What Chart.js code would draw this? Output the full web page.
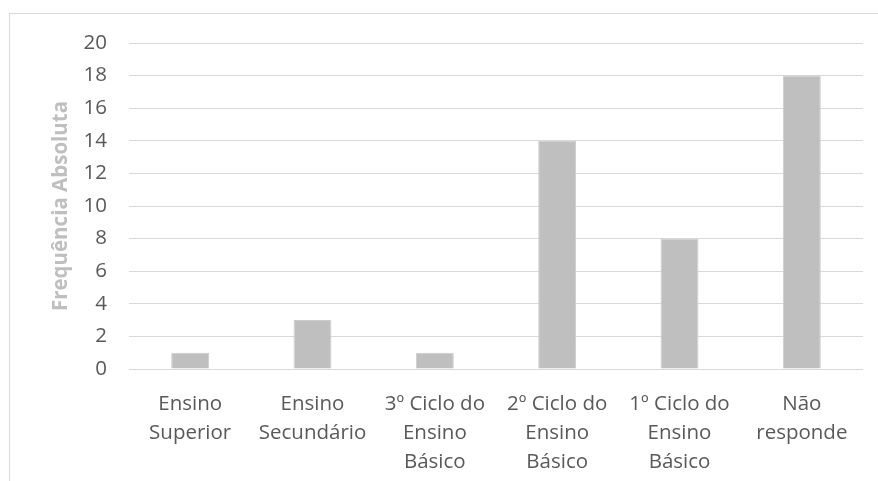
<!DOCTYPE html>
<html lang="pt">
<head>
  <meta charset="UTF-8" />
  <title>Frequência Absoluta</title>
  <style>
    body {
      margin: 0;
      background: #ffffff;
      width: 878px;
      height: 481px;
      overflow: hidden;
      position: relative;
    }
    .frame {
      position: absolute;
      left: 9px;
      top: 13px;
      width: 900px;
      height: 500px;
      border: 1px solid #d9d9d9;
    }
    #chart {
      position: absolute;
      left: 0;
      top: 0;
    }
  </style>
</head>
<body>
  <div class="frame"></div>
  <canvas id="chart" width="878" height="481"></canvas>

  <script src="https://cdn.jsdelivr.net/npm/chart.js"></script>
  <script>
    const categories = [
      ["Ensino", "Superior"],
      ["Ensino", "Secundário"],
      ["3º Ciclo do", "Ensino", "Básico"],
      ["2º Ciclo do", "Ensino", "Básico"],
      ["1º Ciclo do", "Ensino", "Básico"],
      ["Não", "responde"]
    ];
    const frequencies = [1, 3, 1, 14, 8, 18];
    const yTitle = "Frequência Absoluta";

    const fontFamily = "'Open Sans', sans-serif";

    new Chart(document.getElementById("chart").getContext("2d"), {
      type: "bar",
      data: {
        labels: categories,
        datasets: [{
          data: frequencies,
          backgroundColor: "#bfbfbf",
          borderColor: "#cdcdcd",
          borderWidth: 1,
          categoryPercentage: 1,
          barPercentage: 0.31
        }]
      },
      options: {
        responsive: false,
        animation: false,
        layout: { padding: { left: 45, top: 43, right: 15, bottom: 0 } },
        plugins: {
          legend: { display: false },
          tooltip: { enabled: false }
        },
        scales: {
          x: {
            grid: { display: false, drawTicks: false },
            border: { display: false },
            ticks: {
              color: "#595959",
              font: { family: fontFamily, size: 20.5, lineHeight: 1.4 },
              padding: 21,
              maxRotation: 0,
              autoSkip: false
            },
            afterFit: (scale) => { scale.height = 112; }
          },
          y: {
            min: 0,
            max: 20,
            grid: { color: "#d9d9d9", lineWidth: 1, drawTicks: false },
            border: { display: false },
            ticks: {
              stepSize: 2,
              color: "#595959",
              font: { family: fontFamily, size: 20.5 },
              padding: 22
            },
            title: {
              display: true,
              text: yTitle,
              color: "#bfbfbf",
              font: { family: fontFamily, size: 20.5, weight: "bold" },
              padding: 4
            },
            afterFit: (scale) => { scale.width = 84; }
          }
        }
      }
    });
  </script>
</body>
</html>
